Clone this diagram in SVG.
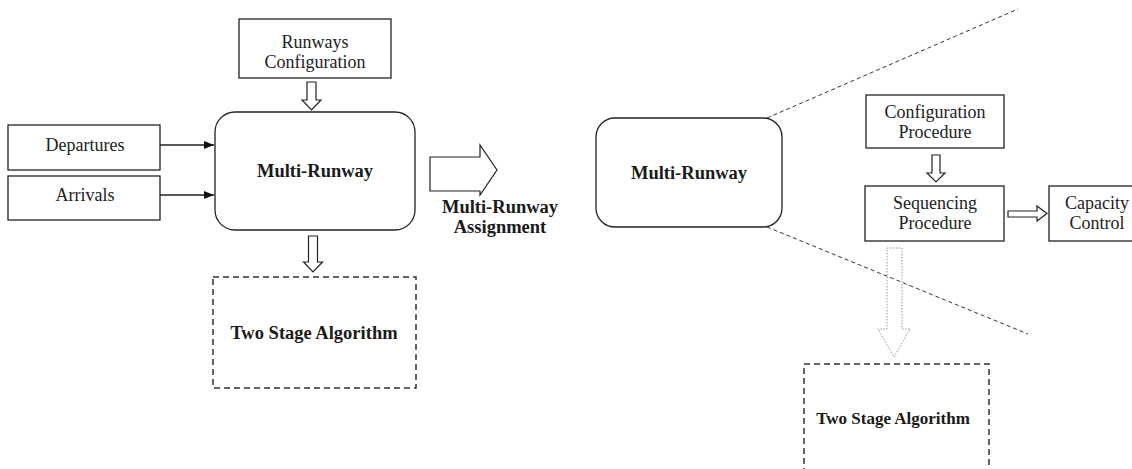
<svg xmlns="http://www.w3.org/2000/svg" width="1132" height="469" viewBox="0 0 1132 469">
<defs>
<style>
.box{fill:#fff;stroke:#222;stroke-width:1.3}
.dbox{fill:none;stroke:#333;stroke-width:1.5;stroke-dasharray:6 4}
.blk{fill:#fff;stroke:#222;stroke-width:1.2;stroke-linejoin:miter}
.gblk{fill:#fff;stroke:#999;stroke-width:1;stroke-dasharray:1.5 1.5}
.dline{fill:none;stroke:#333;stroke-width:1;stroke-dasharray:4 3}
.ln{fill:none;stroke:#222;stroke-width:1.3}
.t{font-family:"Liberation Serif","Times New Roman",serif;font-size:18px;fill:#222;text-anchor:middle}
.b{font-family:"Liberation Serif","Times New Roman",serif;font-size:18.5px;font-weight:bold;fill:#1a1a1a;text-anchor:middle}
</style>
<marker id="ah" viewBox="0 0 10 8" refX="10" refY="4" markerWidth="10" markerHeight="8" markerUnits="userSpaceOnUse" orient="auto">
<path d="M0,0 L10,4 L0,8 Z" fill="#111"/>
</marker>
</defs>
<g id="runways-config">
<rect class="box" x="239" y="19" width="152" height="59"/>
<text class="t" x="315" y="48">Runways</text>
<text class="t" x="315" y="68">Configuration</text>
</g>
<g id="departures">
<rect class="box" x="8" y="125" width="152" height="45"/>
<text class="t" x="85" y="151">Departures</text>
</g>
<g id="arrivals">
<rect class="box" x="8" y="176" width="152" height="44"/>
<text class="t" x="85" y="201">Arrivals</text>
</g>
<g id="multi-runway-left">
<rect class="box" x="215" y="112" width="200" height="118" rx="20" ry="20"/>
<text class="b" x="315" y="177">Multi-Runway</text>
</g>
<g id="two-stage-left">
<rect class="dbox" x="213" y="277" width="203" height="111"/>
<text class="b" x="314" y="339">Two Stage Algorithm</text>
</g>
<g id="assignment-label">
<text class="b" x="500" y="213">Multi-Runway</text>
<text class="b" x="500" y="233">Assignment</text>
</g>
<g id="multi-runway-right">
<rect class="box" x="596" y="118" width="186" height="109" rx="19" ry="19"/>
<text class="b" x="689" y="179">Multi-Runway</text>
</g>
<g id="config-procedure">
<rect class="box" x="866" y="95" width="138" height="53"/>
<text class="t" x="935" y="118">Configuration</text>
<text class="t" x="935" y="138">Procedure</text>
</g>
<g id="sequencing-procedure">
<rect class="box" x="865" y="186" width="139" height="55"/>
<text class="t" x="935" y="209">Sequencing</text>
<text class="t" x="935" y="229">Procedure</text>
</g>
<g id="capacity-control">
<rect class="box" x="1049" y="186" width="100" height="55"/>
<text class="t" x="1097" y="209">Capacity</text>
<text class="t" x="1097" y="229">Control</text>
</g>
<g id="two-stage-right">
<rect class="dbox" x="804" y="364" width="185" height="120"/>
<text class="b" x="893" y="424" style="font-size:17px">Two Stage Algorithm</text>
</g>
<g id="connectors">
<line class="ln" x1="160" y1="145" x2="214" y2="145" marker-end="url(#ah)"/>
<line class="ln" x1="160" y1="195" x2="214" y2="195" marker-end="url(#ah)"/>
<polygon class="blk" points="307,82 316,82 316,100 321,100 311.5,110 302,100 307,100"/>
<polygon class="blk" points="308.5,236 317.5,236 317.5,262 322.5,262 313,272 303.5,262 308.5,262"/>
<polygon class="blk" points="430,157 480,157 480,145 497,170 480,195 480,191 430,191"/>
<polygon class="blk" points="932,155 940,155 940,173 945,173 936,182 927,173 932,173"/>
<polygon class="blk" points="1008,211 1037,211 1037,206 1047,213.5 1037,221 1037,217 1008,217"/>
<polygon class="gblk" points="887,248 902,248 902,329 910,329 894,357 878,329 887,329"/>
<line class="dline" x1="767" y1="118" x2="1018" y2="9"/>
<line class="dline" x1="767" y1="227" x2="1028" y2="334"/>
</g>
</svg>
